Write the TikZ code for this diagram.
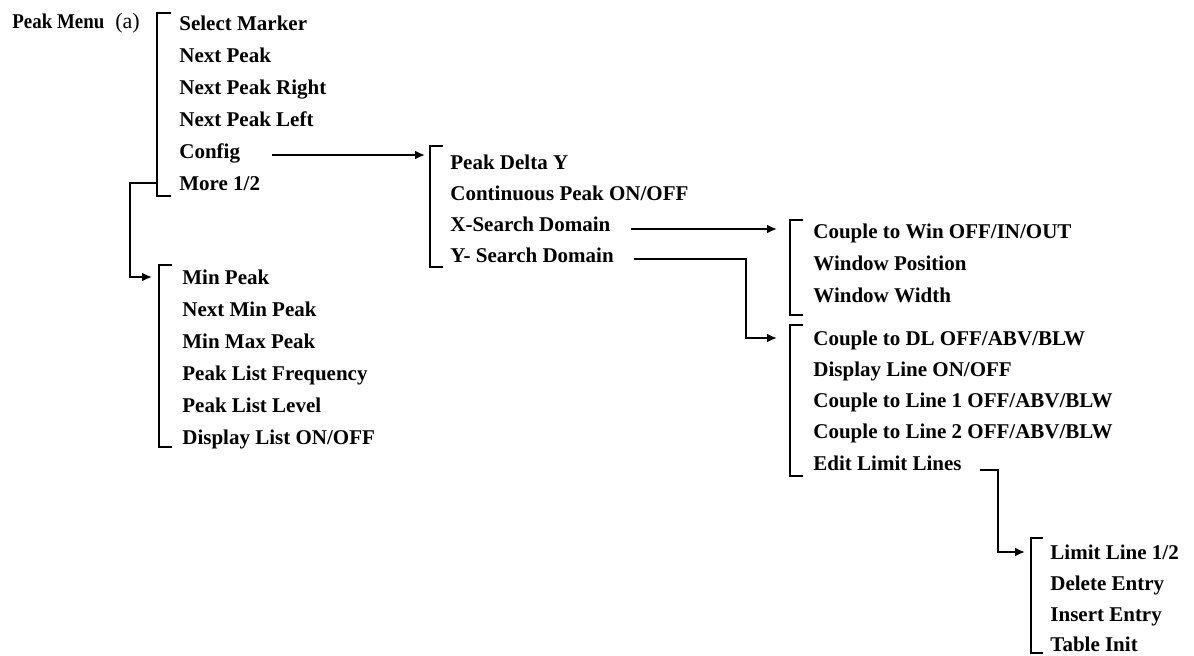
\documentclass[tikz,border=0pt]{standalone}
\usepackage{fontspec}
\usepackage{graphicx}
\setmainfont{Liberation Serif}
\usetikzlibrary{arrows.meta, positioning, calc}

\begin{document}
\begin{tikzpicture}[x=0.5pt, y=-0.5pt,
            it/.style={anchor=base west, inner sep=0pt, font=\bfseries\fontsize{10.5}{12}\selectfont},
            br/.style={draw=black, line width=1pt},
            ar/.style={draw=black, line width=1pt, -{Latex[length=5pt, width=4.5pt]}}]
            \useasboundingbox (0,0) rectangle (1194,655);
            % main menu
            \node[it] (pm) at (12,28) {\scalebox{0.9}[1]{Peak Menu}};
            \node[it, font=\fontsize{11}{12}\selectfont] (pa) at (115,28) {(a)};
            \node[it] (sm)   at (179,30)  {Select Marker};
            \node[it] (np)   at (179,62)  {Next Peak};
            \node[it] (npr)  at (179,94)  {Next Peak Right};
            \node[it] (npl)  at (179,126) {Next Peak Left};
            \node[it] (cfg)  at (179,158) {Config};
            \node[it] (more) at (179,190) {More 1/2};
            \draw[br] (171,13) -- (157,13) -- (157,196) -- (171,196);
            % more 1/2
            \node[it] (mp)  at (182,284) {Min Peak};
            \node[it] (nmp) at (182,316) {Next Min Peak};
            \node[it] (mmp) at (182,348) {Min Max Peak};
            \node[it] (plf) at (182,380) {Peak List Frequency};
            \node[it] (pll) at (182,412) {Peak List Level};
            \node[it] (dl)  at (182,444) {Display List ON/OFF};
            \draw[br] (172,265) -- (159,265) -- (159,447) -- (172,447);
            % config
            \node[it] (pdy) at (450,169) {Peak Delta Y};
            \node[it] (cp)  at (450,200) {Continuous Peak ON/OFF};
            \node[it] (xs)  at (450,231) {X-Search Domain};
            \node[it] (ys)  at (450,262) {Y- Search Domain};
            \draw[br] (443,146) -- (430,146) -- (430,267) -- (443,267);
            % x-search
            \node[it] (cw)  at (813,238) {Couple to Win OFF/IN/OUT};
            \node[it] (wp)  at (813,270) {Window Position};
            \node[it] (ww)  at (813,302) {Window Width};
            \draw[br] (803,220) -- (790,220) -- (790,315) -- (803,315);
            % y-search
            \node[it] (cdl) at (813,345) {Couple to DL OFF/ABV/BLW};
            \node[it] (dsl) at (813,376) {Display Line ON/OFF};
            \node[it] (cl1) at (813,407) {Couple to Line 1 OFF/ABV/BLW};
            \node[it] (cl2) at (813,438) {Couple to Line 2 OFF/ABV/BLW};
            \node[it] (el)  at (813,470) {Edit Limit Lines};
            \draw[br] (803,325) -- (790,325) -- (790,476) -- (803,476);
            % limit lines
            \node[it] (ll)  at (1050,559) {Limit Line 1/2};
            \node[it] (de)  at (1050,590) {Delete Entry};
            \node[it] (ie)  at (1050,621) {Insert Entry};
            \node[it] (ti)  at (1050,651) {Table Init};
            \draw[br] (1043,538) -- (1031,538) -- (1031,653) -- (1043,653);
            % connectors
            \draw[ar] ($(cfg.base east)+(32,-3)$) -- ($(cfg.base east -| pdy.base west)+(-25,-3)$);
            \draw[ar] ($(more.base west)+(-22,-7)$) -- ++(-27,0) |- ($(mp.base west)+(-30,-7)$);
            \draw[ar] ($(xs.base east)+(20,-2)$) -- ($(xs.base east -| cw.base west)+(-36,-2)$);
            \draw[ar] ($(ys.base east)+(20,-3)$) -| ($(cdl.base west)+(-67,-7)$) -- ($(cdl.base west)+(-36,-7)$);
            \draw[ar] ($(el.base east)+(18,0)$) -| ($(ll.base west)+(-52,-7)$) -- ($(ll.base west)+(-25,-7)$);
        \end{tikzpicture}
\end{document}
